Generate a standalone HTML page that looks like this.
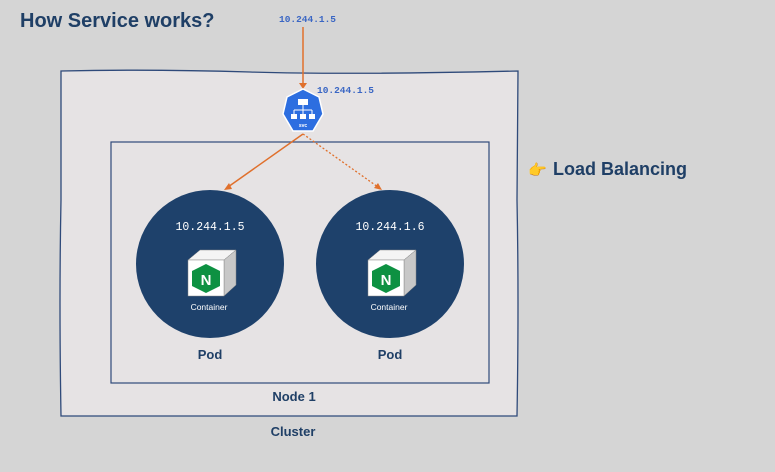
<!DOCTYPE html>
<html><head><style>
body{margin:0;width:775px;height:467px;background:#d5d5d5;overflow:hidden;font-family:"Liberation Sans",sans-serif;}
</style></head><body>
<svg width="775" height="467" xmlns="http://www.w3.org/2000/svg">
<rect width="775" height="467" fill="#d5d5d5"/>
<text x="20" y="27" font-family="Liberation Sans" font-weight="bold" font-size="20" fill="#1f3f66">How Service works?</text>
<path d="M61,71 Q150,69 250,72 T518,71 L517,200 Q519,300 517,416 L61,416 Q59,300 61,200 Z" fill="#e6e3e4" stroke="#2f4a7a" stroke-width="1.3"/>
<rect x="111" y="142" width="378" height="241" fill="#e6e3e4" stroke="#2f4a7a" stroke-width="1.2"/>
<text x="279" y="22" font-family="Liberation Mono" font-weight="bold" font-size="9.5" fill="#3a66c4">10.244.1.5</text>
<text x="317" y="93" font-family="Liberation Mono" font-weight="bold" font-size="9.5" fill="#3a66c4">10.244.1.5</text>
<line x1="303" y1="27" x2="303" y2="84" stroke="#e0702c" stroke-width="1.5"/>
<polygon points="299,83 307,83 303,89" fill="#e0702c"/>
<polygon points="303,89 319,97 323,114 313,131 293,131 283,114 287,97" fill="#2d6ee0" stroke="#fff" stroke-width="1.5"/>
<g fill="#fff"><rect x="298" y="99" width="10" height="6"/><rect x="291" y="114" width="6" height="5"/><rect x="300" y="114" width="6" height="5"/><rect x="309" y="114" width="6" height="5"/>
<path d="M303,105v9M294,110h18M294,110v4M312,110v4" stroke="#fff" stroke-width="1"/></g>
<text x="303" y="127" font-size="5" fill="#fff" text-anchor="middle" font-weight="bold">svc</text>
<line x1="303" y1="134" x2="228" y2="187" stroke="#e0702c" stroke-width="1.5"/>
<polygon points="224,190 229,183 232,189" fill="#e0702c"/>
<line x1="303" y1="134" x2="378" y2="187" stroke="#e0702c" stroke-width="1.3" stroke-dasharray="2,2"/>
<polygon points="382,190 374,188 378,183" fill="#e0702c"/>
<g>
<circle cx="210" cy="264" r="74" fill="#1e416b"/>
<text x="210" y="230" font-family="Liberation Mono" font-size="11.5" fill="#fff" text-anchor="middle">10.244.1.5</text>
<polygon points="188,260 200,250 236,250 224,260" fill="#f4f4f4" stroke="#888" stroke-width=".5"/>
<polygon points="224,260 236,250 236,285 224,296" fill="#c8c8c8" stroke="#888" stroke-width=".5"/>
<rect x="188" y="260" width="36" height="36" fill="#fff" stroke="#888" stroke-width=".5"/>
<polygon points="206,264 220,271 220,286 206,293 192,286 192,271" fill="#0d9142"/>
<text x="206" y="285" font-size="15" font-weight="bold" fill="#fff" text-anchor="middle">N</text>
<text x="209" y="310" font-size="8.5" fill="#fff" text-anchor="middle">Container</text>
<text x="210" y="359" font-size="13" font-weight="bold" fill="#1f3f66" text-anchor="middle">Pod</text>
</g>
<g transform="translate(180,0)">
<circle cx="210" cy="264" r="74" fill="#1e416b"/>
<text x="210" y="230" font-family="Liberation Mono" font-size="11.5" fill="#fff" text-anchor="middle">10.244.1.6</text>
<polygon points="188,260 200,250 236,250 224,260" fill="#f4f4f4" stroke="#888" stroke-width=".5"/>
<polygon points="224,260 236,250 236,285 224,296" fill="#c8c8c8" stroke="#888" stroke-width=".5"/>
<rect x="188" y="260" width="36" height="36" fill="#fff" stroke="#888" stroke-width=".5"/>
<polygon points="206,264 220,271 220,286 206,293 192,286 192,271" fill="#0d9142"/>
<text x="206" y="285" font-size="15" font-weight="bold" fill="#fff" text-anchor="middle">N</text>
<text x="209" y="310" font-size="8.5" fill="#fff" text-anchor="middle">Container</text>
<text x="210" y="359" font-size="13" font-weight="bold" fill="#1f3f66" text-anchor="middle">Pod</text>
</g>
<text x="294" y="401" font-size="13" font-weight="bold" fill="#1f3f66" text-anchor="middle">Node 1</text>
<text x="293" y="436" font-size="13" font-weight="bold" fill="#1f3f66" text-anchor="middle">Cluster</text>
<text x="528" y="175" font-size="15" fill="#e8a000">👉</text>
<text x="553" y="175" font-size="18" font-weight="bold" fill="#1f3f66">Load Balancing</text>
</svg>
</body></html>
